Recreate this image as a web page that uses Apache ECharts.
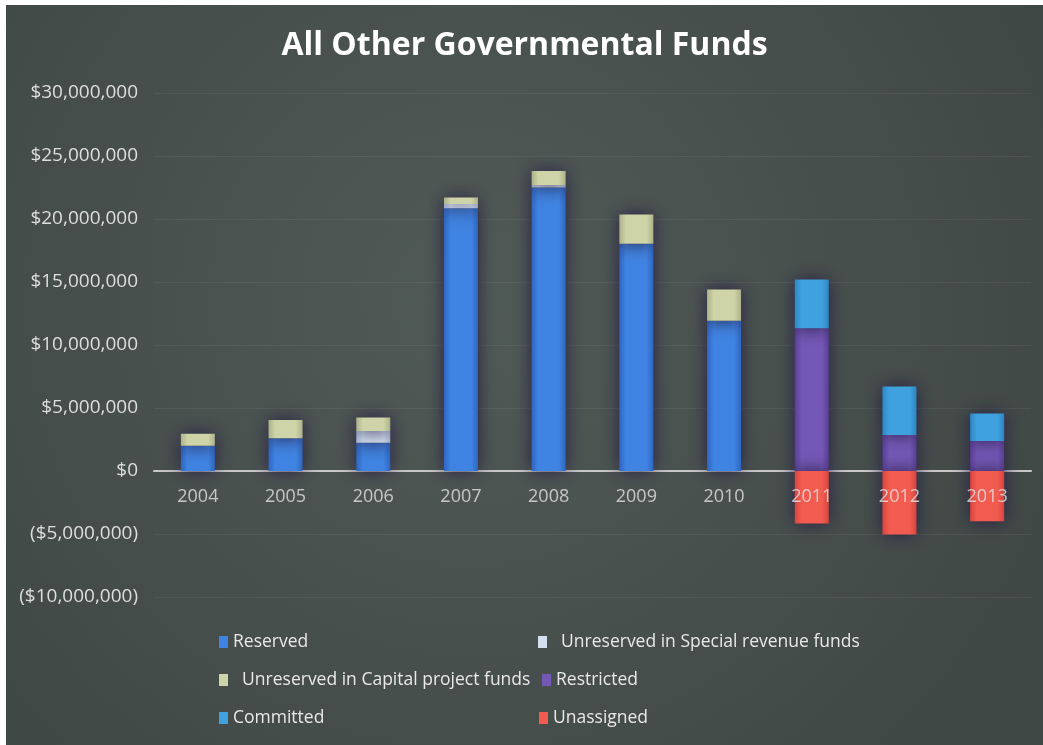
<!DOCTYPE html>
<html>
<head>
<meta charset="utf-8">
<script src="https://cdn.jsdelivr.net/npm/echarts@6/dist/echarts.min.js"></script>
<style>
  html, body { margin: 0; padding: 0; background: #ffffff; }
  #chart { position: absolute; left: 6px; top: 5px; width: 1037px; height: 740px; }
</style>
</head>
<body>
<div id="chart"></div>
<script>
// Fund balance components by fiscal year
var years = ['2004', '2005', '2006', '2007', '2008', '2009', '2010', '2011', '2012', '2013'];
var reserved        = [2000000, 2600000, 2250000, 20850000, 22500000, 18030000, 11930000, null, null, null];
var specialRevenue  = [null, null, 930000, 350000, 200000, null, null, null, null, null];
var capitalProject  = [950000, 1450000, 1060000, 500000, 1100000, 2320000, 2470000, null, null, null];
var restricted      = [null, null, null, null, null, null, null, 11320000, 2860000, 2390000];
var committed       = [null, null, null, null, null, null, null, 3880000, 3850000, 2170000];
var unassigned      = [null, null, null, null, null, null, null, -4160000, -5040000, -3980000];

var yMin = -10000000, yMax = 30000000, yStep = 5000000;

function money(v) {
  var s = '$' + Math.abs(v).toLocaleString('en-US');
  return v < 0 ? '(' + s + ')' : s;
}

// bevelled bar fill: darker edges, lighter middle
function bevel(edge, mid) {
  return new echarts.graphic.LinearGradient(0, 0, 1, 0, [
    { offset: 0, color: edge },
    { offset: 0.2, color: mid },
    { offset: 0.8, color: mid },
    { offset: 1, color: edge }
  ]);
}

var palette = {
  'Reserved': ['#2f66c0', '#3f84e2'],
  'Unreserved in Special revenue funds': ['#a9bcd6', '#d2e0f0'],
  'Unreserved in Capital project funds': ['#aeb28a', '#cfd3a8'],
  'Restricted': ['#5a3f98', '#7458b6'],
  'Committed': ['#2d86c4', '#3fa2de'],
  'Unassigned': ['#d8443e', '#f25c50']
};

function barSeries(name, data) {
  var c = palette[name];
  return {
    name: name,
    type: 'bar',
    stack: 'funds',
    data: data,
    barWidth: 34,
    itemStyle: {
      color: bevel(c[0], c[1]),
      shadowColor: 'rgba(40, 30, 68, 1)',
      shadowBlur: 18
    },
    emphasis: { disabled: true }
  };
}

function legendItem(name, label, left, top, iconColor) {
  return {
    data: [{ name: name, itemStyle: { color: iconColor } }],
    left: left,
    top: top,
    icon: 'rect',
    itemWidth: 9,
    itemHeight: 12,
    selectedMode: false,
    formatter: function () { return label; },
    textStyle: { color: '#e8e8e8', fontSize: 17.5, fontFamily: 'Open Sans' }
  };
}

var chart = echarts.init(document.getElementById('chart'));
chart.setOption({
  backgroundColor: new echarts.graphic.RadialGradient(0.45, 0.4, 0.85, [
    { offset: 0, color: '#505a56' },
    { offset: 1, color: '#404845' }
  ]),
  animation: false,
  title: {
    text: 'All Other Governmental Funds',
    left: 'center',
    top: 20,
    textStyle: { color: '#ffffff', fontSize: 32, fontWeight: 'bold', fontFamily: 'Open Sans' }
  },
  legend: [
    legendItem('Reserved', 'Reserved', 208, 623, '#3f84e2'),
    legendItem('Unreserved in Special revenue funds', '  Unreserved in Special revenue funds', 527, 623, '#d2e0f0'),
    legendItem('Unreserved in Capital project funds', '  Unreserved in Capital project funds', 208, 661, '#cfd3a8'),
    legendItem('Restricted', 'Restricted', 531, 661, '#7458b6'),
    legendItem('Committed', 'Committed', 208, 699, '#3fa2de'),
    legendItem('Unassigned', 'Unassigned', 528, 699, '#f25c50')
  ],
  grid: { left: 148, right: 12, top: 88, bottom: 148 },
  xAxis: {
    type: 'category',
    data: years,
    axisLine: { onZero: true, lineStyle: { color: '#c8c8c8', width: 2 } },
    axisTick: { show: false },
    axisLabel: { show: false }
  },
  yAxis: {
    type: 'value',
    min: yMin,
    max: yMax,
    interval: yStep,
    axisLine: { show: false },
    axisTick: { show: false },
    splitLine: { lineStyle: { color: 'rgba(255,255,255,0.06)' } },
    axisLabel: {
      color: '#dedede',
      fontSize: 19,
      margin: 16,
      fontFamily: 'Open Sans',
      formatter: money
    }
  },
  series: [
    barSeries('Reserved', reserved),
    barSeries('Unreserved in Special revenue funds', specialRevenue),
    barSeries('Unreserved in Capital project funds', capitalProject),
    barSeries('Restricted', restricted),
    barSeries('Committed', committed),
    barSeries('Unassigned', unassigned),
    {
      // year labels sitting just under the zero line
      name: 'year',
      type: 'scatter',
      z: 10,
      silent: true,
      symbolSize: 1,
      itemStyle: { color: 'rgba(0,0,0,0)' },
      data: years.map(function (y) { return [y, 0]; }),
      label: {
        show: true,
        position: 'bottom',
        distance: 16,
        color: '#e4e4e4',
        fontSize: 18,
        fontFamily: 'Open Sans',
        formatter: function (p) { return p.value[0]; }
      }
    }
  ]
});
</script>
</body>
</html>
